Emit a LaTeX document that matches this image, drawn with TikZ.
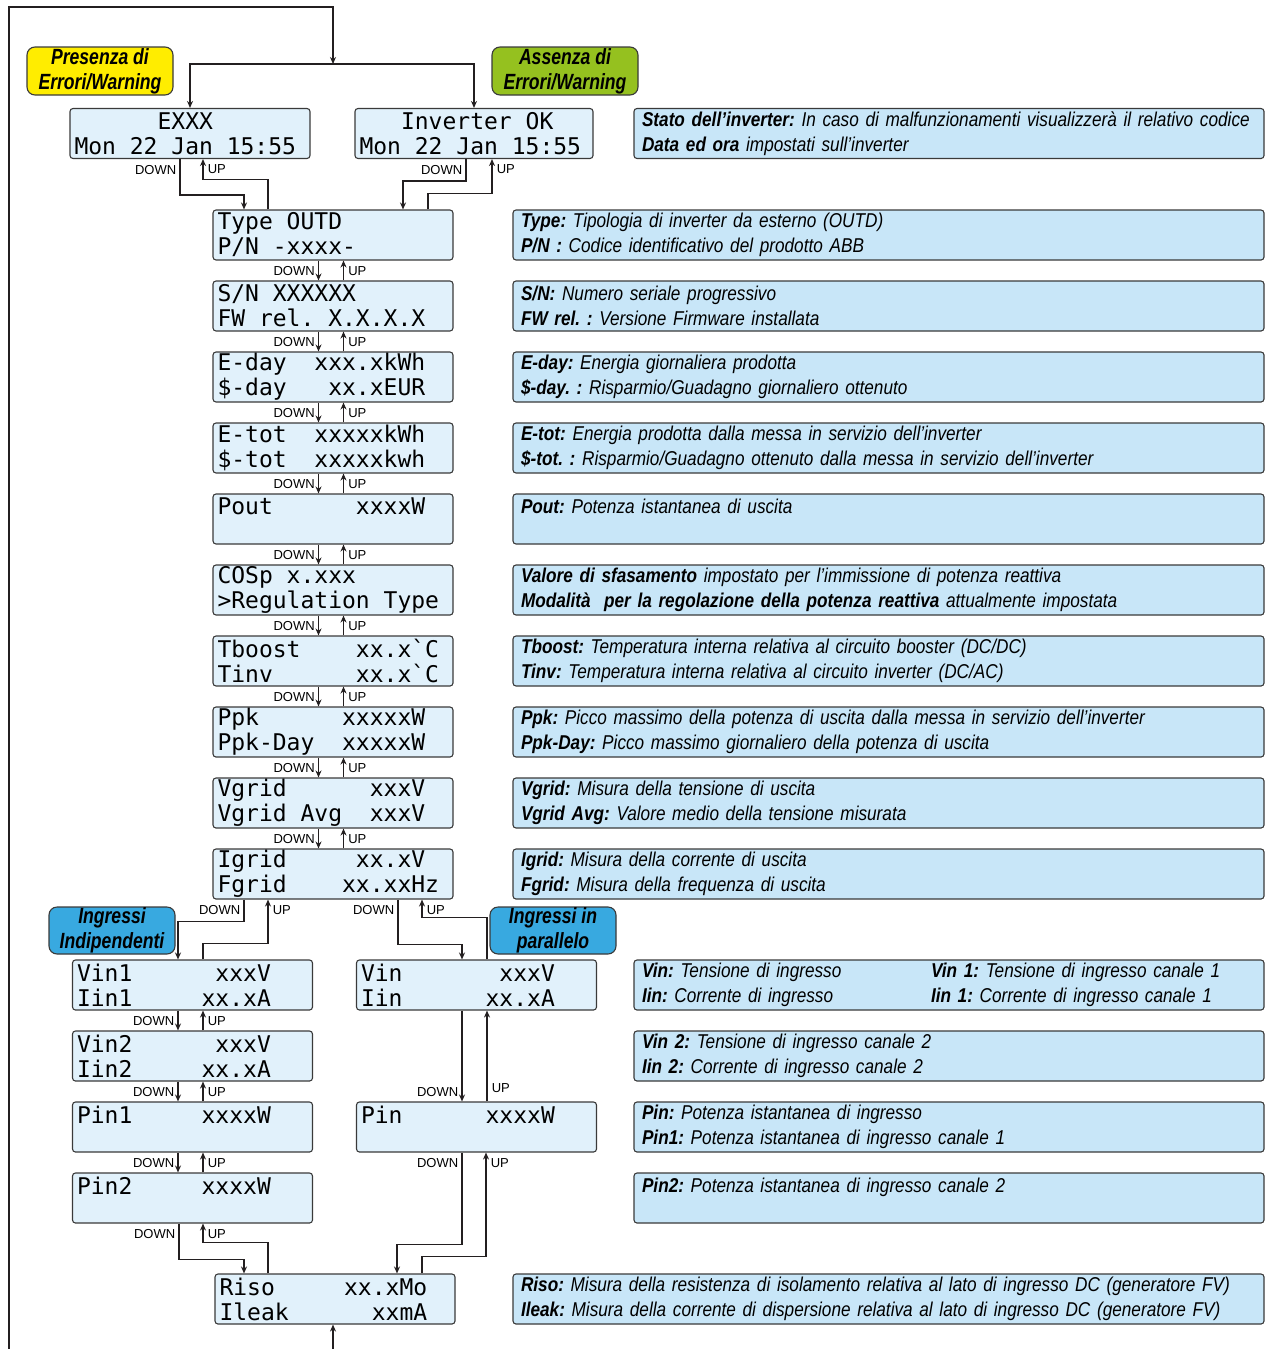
\documentclass[tikz,border=0pt]{standalone}
\usepackage{fontspec}
\usetikzlibrary{arrows.meta}
\newfontfamily\lcdfont{DejaVu Sans Mono}
\newfontfamily\descfont[FakeStretch=0.86]{Liberation Sans}
\newfontfamily\tagfont[FakeStretch=0.8]{Liberation Sans}
\newfontfamily\keyfont{Liberation Sans}
% blank LCD cells
\newcommand\blk[1]{\hspace*{#1\dimexpr0.602em\relax}}
\definecolor{lcdblue}{HTML}{E1F1FB}
\definecolor{descblue}{HTML}{C8E6F8}
\definecolor{tagyellow}{HTML}{FFED00}
\definecolor{taggreen}{HTML}{95C11F}
\definecolor{tagblue}{HTML}{38A9E0}
\definecolor{boxgray}{HTML}{3A3A3A}
\definecolor{linegray}{HTML}{231F20}
\tikzset{
  conn/.style={line width=1.6pt, draw=linegray},
  lcd/.style={draw=boxgray, line width=1.1pt, fill=lcdblue, rounded corners=3pt,
    minimum width=240pt, minimum height=50pt, text width=231pt,
    inner xsep=4.5pt, inner ysep=0pt, align=left,
    font=\lcdfont\fontsize{23}{25}\selectfont},
  desc/.style={draw=boxgray, line width=1.1pt, fill=descblue, rounded corners=3pt,
    minimum height=50pt, inner xsep=8pt, inner ysep=0pt, align=left,
    font=\descfont\itshape\fontsize{20}{25}\selectfont\frenchspacing},
  tag/.style={draw=boxgray, line width=1.1pt, rounded corners=8pt,
    minimum height=48pt, inner sep=0pt, align=center,
    font=\tagfont\bfseries\itshape\fontsize{22}{25}\selectfont},
  dn/.style={font=\keyfont\fontsize{13}{13}\selectfont, anchor=east,
    inner xsep=3pt, inner ysep=1pt, yshift=-10.5pt},
  upl/.style={font=\keyfont\fontsize{13}{13}\selectfont, anchor=west,
    inner xsep=3pt, inner ysep=1pt, xshift=1pt, yshift=-10.5pt},
}
\begin{document}
\begin{tikzpicture}[x=1pt,y=-1pt,>={Stealth[length=7pt,width=6pt]}]
\useasboundingbox (0,0) rectangle (1266,1349);
% state labels
\node[tag, fill=tagyellow, minimum width=146pt] (warnon) at (100,71) {Presenza di\\Errori/Warning};
\node[tag, fill=taggreen, minimum width=146pt] (warnoff) at (565,71) {Assenza di\\Errori/Warning};
% first screens
\node[lcd] (exxx) at (190,133.5) {\blk{6}EXXX\\Mon\blk{1}22\blk{1}Jan\blk{1}15:55};
\node[lcd, minimum width=238pt, text width=229pt] (invok) at (474,133.5) {\blk{3}Inverter\blk{1}OK\\Mon\blk{1}22\blk{1}Jan\blk{1}15:55};
\node[desc, text width=614pt] (dstate) at (949,133.5) {\textbf{Stato dell’inverter:} In caso di malfunzionamenti visualizzerà il relativo codice\\\textbf{Data ed ora} impostati sull’inverter};
% main column
\node[lcd] (type) at (333,235) {Type\blk{1}OUTD\\P/N\blk{1}-xxxx-};
\node[lcd] (sn) at (333,306) {S/N\blk{1}XXXXXX\\FW\blk{1}rel.\blk{1}X.X.X.X};
\node[lcd] (eday) at (333,377) {E-day\blk{2}xxx.xkWh\\\$-day\blk{3}xx.xEUR};
\node[lcd] (etot) at (333,448) {E-tot\blk{2}xxxxxkWh\\\$-tot\blk{2}xxxxxkwh};
\node[lcd] (pout) at (333,519) {Pout\blk{6}xxxxW\\\mbox{}};
\node[lcd] (cosp) at (333,590) {COSp\blk{1}x.xxx\\>Regulation\blk{1}Type};
\node[lcd] (tboost) at (333,661) {Tboost\blk{4}xx.x\symbol{96}C\\Tinv\blk{6}xx.x\symbol{96}C};
\node[lcd] (ppk) at (333,732) {Ppk\blk{6}xxxxxW\\Ppk-Day\blk{2}xxxxxW};
\node[lcd] (vgrid) at (333,803) {Vgrid\blk{6}xxxV\\Vgrid\blk{1}Avg\blk{2}xxxV};
\node[lcd] (igrid) at (333,874) {Igrid\blk{5}xx.xV\\Fgrid\blk{4}xx.xxHz};
% descriptions
\node[desc, text width=735pt] (dtype) at (888.5,235) {\textbf{Type:} Tipologia di inverter da esterno (OUTD)\\\textbf{P/N :} Codice identificativo del prodotto ABB};
\node[desc, text width=735pt] (dsn) at (888.5,306) {\textbf{S/N:} Numero seriale progressivo\\\textbf{FW rel. :} Versione Firmware installata};
\node[desc, text width=735pt] (deday) at (888.5,377) {\textbf{E-day:} Energia giornaliera prodotta\\\textbf{\$-day. :} Risparmio/Guadagno giornaliero ottenuto};
\node[desc, text width=735pt] (detot) at (888.5,448) {\textbf{E-tot:} Energia prodotta dalla messa in servizio dell’inverter\\\textbf{\$-tot. :} Risparmio/Guadagno ottenuto dalla messa in servizio dell’inverter};
\node[desc, text width=735pt] (dpout) at (888.5,519) {\textbf{Pout:} Potenza istantanea di uscita\\\mbox{}};
\node[desc, text width=735pt] (dcosp) at (888.5,590) {\textbf{Valore di sfasamento} impostato per l’immissione di potenza reattiva\\\textbf{Modalità\ \ per la regolazione della potenza reattiva} attualmente impostata};
\node[desc, text width=735pt] (dtboost) at (888.5,661) {\textbf{Tboost:} Temperatura interna relativa al circuito booster (DC/DC)\\\textbf{Tinv:} Temperatura interna relativa al circuito inverter (DC/AC)};
\node[desc, text width=735pt] (dppk) at (888.5,732) {\textbf{Ppk:} Picco massimo della potenza di uscita dalla messa in servizio dell’inverter\\\textbf{Ppk-Day:} Picco massimo giornaliero della potenza di uscita};
\node[desc, text width=735pt] (dvgrid) at (888.5,803) {\textbf{Vgrid:} Misura della tensione di uscita\\\textbf{Vgrid Avg:} Valore medio della tensione misurata};
\node[desc, text width=735pt] (digrid) at (888.5,874) {\textbf{Igrid:} Misura della corrente di uscita\\\textbf{Fgrid:} Misura della frequenza di uscita};
% input branches
\node[tag, fill=tagblue, minimum width=126pt, minimum height=47pt] (indep) at (112,930.5) {Ingressi\\Indipendenti};
\node[tag, fill=tagblue, minimum width=126pt, minimum height=47pt] (paral) at (553,930.5) {Ingressi in\\parallelo};
\node[lcd] (vinA) at (192.5,985) {Vin1\blk{6}xxxV\\Iin1\blk{5}xx.xA};
\node[lcd] (vinB) at (192.5,1056) {Vin2\blk{6}xxxV\\Iin2\blk{5}xx.xA};
\node[lcd] (pinA) at (192.5,1127) {Pin1\blk{5}xxxxW\\\mbox{}};
\node[lcd] (pinB) at (192.5,1198) {Pin2\blk{5}xxxxW\\\mbox{}};
\node[lcd] (vin) at (476.5,985) {Vin\blk{7}xxxV\\Iin\blk{6}xx.xA};
\node[lcd] (pin) at (476.5,1127) {Pin\blk{6}xxxxW\\\mbox{}};
\node[desc, text width=614pt] (dvin) at (949,985) {\makebox[289pt][l]{\textbf{Vin:} Tensione di ingresso}\textbf{Vin 1:} Tensione di ingresso canale 1\\\makebox[289pt][l]{\textbf{Iin:} Corrente di ingresso}\textbf{Iin 1:} Corrente di ingresso canale 1};
\node[desc, text width=614pt] (dvinB) at (949,1056) {\textbf{Vin 2:} Tensione di ingresso canale 2\\\textbf{Iin 2:} Corrente di ingresso canale 2};
\node[desc, text width=614pt] (dpin) at (949,1127) {\textbf{Pin:} Potenza istantanea di ingresso\\\textbf{Pin1:} Potenza istantanea di ingresso canale 1};
\node[desc, text width=614pt] (dpinB) at (949,1198) {\textbf{Pin2:} Potenza istantanea di ingresso canale 2\\\mbox{}};
\node[lcd] (riso) at (335,1299) {Riso\blk{5}xx.xMo\\Ileak\blk{6}xxmA};
\node[desc, text width=735pt] (driso) at (888.5,1299) {\textbf{Riso:} Misura della resistenza di isolamento relativa al lato di ingresso DC (generatore FV)\\\textbf{Ileak:} Misura della corrente di dispersione relativa al lato di ingresso DC (generatore FV)};
% loop back to the first screen
\coordinate (loopL) at (9,1349);
\coordinate (corner) at (333,7);
\coordinate (split) at (333,64);
\coordinate (loopB) at (333,1349);
\draw[conn,->] (loopL) |- (corner) -- (split);
\draw[conn,->] (split) -| (exxx.north);
\draw[conn,->] (split) -| (invok.north);
\draw[conn,->] (loopB) -- (loopB |- riso.south);
% first screens to Type
\draw[conn,->] (exxx.south -| 180,0) node[dn]{DOWN} -- ++(0,36) -| (type.north -| 244,0);
\draw[conn,->] (type.north -| 268,0) -- ++(0,-30) -| (exxx.south -| 203,0) node[upl]{UP};
\draw[conn,->] (invok.south -| 466,0) node[dn]{DOWN} -- ++(0,22) -| (type.north -| 403,0);
\draw[conn,->] (type.north -| 428,0) -- ++(0,-16) -| (invok.south -| 492,0) node[upl]{UP};
% main column
\draw[conn,->] ([xshift=-14.5pt]type.south) node[dn]{DOWN} -- ([xshift=-14.5pt]sn.north);
\draw[conn,->] ([xshift=10.5pt]sn.north) -- ([xshift=10.5pt]type.south) node[upl]{UP};
\draw[conn,->] ([xshift=-14.5pt]sn.south) node[dn]{DOWN} -- ([xshift=-14.5pt]eday.north);
\draw[conn,->] ([xshift=10.5pt]eday.north) -- ([xshift=10.5pt]sn.south) node[upl]{UP};
\draw[conn,->] ([xshift=-14.5pt]eday.south) node[dn]{DOWN} -- ([xshift=-14.5pt]etot.north);
\draw[conn,->] ([xshift=10.5pt]etot.north) -- ([xshift=10.5pt]eday.south) node[upl]{UP};
\draw[conn,->] ([xshift=-14.5pt]etot.south) node[dn]{DOWN} -- ([xshift=-14.5pt]pout.north);
\draw[conn,->] ([xshift=10.5pt]pout.north) -- ([xshift=10.5pt]etot.south) node[upl]{UP};
\draw[conn,->] ([xshift=-14.5pt]pout.south) node[dn]{DOWN} -- ([xshift=-14.5pt]cosp.north);
\draw[conn,->] ([xshift=10.5pt]cosp.north) -- ([xshift=10.5pt]pout.south) node[upl]{UP};
\draw[conn,->] ([xshift=-14.5pt]cosp.south) node[dn]{DOWN} -- ([xshift=-14.5pt]tboost.north);
\draw[conn,->] ([xshift=10.5pt]tboost.north) -- ([xshift=10.5pt]cosp.south) node[upl]{UP};
\draw[conn,->] ([xshift=-14.5pt]tboost.south) node[dn]{DOWN} -- ([xshift=-14.5pt]ppk.north);
\draw[conn,->] ([xshift=10.5pt]ppk.north) -- ([xshift=10.5pt]tboost.south) node[upl]{UP};
\draw[conn,->] ([xshift=-14.5pt]ppk.south) node[dn]{DOWN} -- ([xshift=-14.5pt]vgrid.north);
\draw[conn,->] ([xshift=10.5pt]vgrid.north) -- ([xshift=10.5pt]ppk.south) node[upl]{UP};
\draw[conn,->] ([xshift=-14.5pt]vgrid.south) node[dn]{DOWN} -- ([xshift=-14.5pt]igrid.north);
\draw[conn,->] ([xshift=10.5pt]igrid.north) -- ([xshift=10.5pt]vgrid.south) node[upl]{UP};
% Igrid to the two input branches
\draw[conn,->] (igrid.south -| 244,0) node[dn]{DOWN} -- ++(0,22) -| (vinA.north -| 178,0);
\draw[conn,->] (vinA.north -| 203,0) -- ++(0,-16) -| (igrid.south -| 268,0) node[upl]{UP};
\draw[conn,->] (igrid.south -| 398,0) node[dn]{DOWN} -- ++(0,45) -| (vin.north -| 462,0);
\draw[conn,->] (vin.north -| 487,0) -- ++(0,-42) -| (igrid.south -| 422,0) node[upl]{UP};
% independent inputs
\draw[conn,->] ([xshift=-14.5pt]vinA.south) node[dn]{DOWN} -- ([xshift=-14.5pt]vinB.north);
\draw[conn,->] ([xshift=10.5pt]vinB.north) -- ([xshift=10.5pt]vinA.south) node[upl]{UP};
\draw[conn,->] ([xshift=-14.5pt]vinB.south) node[dn]{DOWN} -- ([xshift=-14.5pt]pinA.north);
\draw[conn,->] ([xshift=10.5pt]pinA.north) -- ([xshift=10.5pt]vinB.south) node[upl]{UP};
\draw[conn,->] ([xshift=-14.5pt]pinA.south) node[dn]{DOWN} -- ([xshift=-14.5pt]pinB.north);
\draw[conn,->] ([xshift=10.5pt]pinB.north) -- ([xshift=10.5pt]pinA.south) node[upl]{UP};
% parallel inputs
\draw[conn,->] ([xshift=-14.5pt]vin.south) node[dn,yshift=-70.5pt]{DOWN} -- ([xshift=-14.5pt]pin.north);
\draw[conn,->] ([xshift=10.5pt]pin.north) node[upl,yshift=23.5pt]{UP} -- ([xshift=10.5pt]vin.south);
% both branches to Riso
\draw[conn,->] (pinB.south -| 179,0) node[dn]{DOWN} -- ++(0,36) -| (riso.north -| 244,0);
\draw[conn,->] (riso.north -| 268,0) -- ++(0,-31) -| (pinB.south -| 203,0) node[upl]{UP};
\draw[conn,->] (pin.south -| 462,0) node[dn]{DOWN} -- ++(0,92) -| (riso.north -| 397,0);
\draw[conn,->] (riso.north -| 422,0) -- ++(0,-17) -| (pin.south -| 486,0) node[upl]{UP};
\end{tikzpicture}
\end{document}
